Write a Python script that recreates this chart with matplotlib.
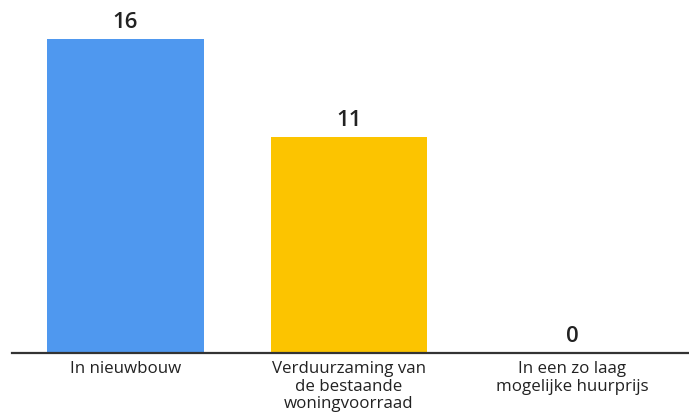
import matplotlib
matplotlib.use('Agg')
import matplotlib.pyplot as plt

categories = ['In nieuwbouw', 'Verduurzaming van\nde bestaande\nwoningvoorraad',
              'In een zo laag\nmogelijke huurprijs']
values = [16, 11, 0]
colors = ['#4f98ef', '#fcc400', '#9e9e9e']

plt.rcParams['font.family'] = ['Open Sans', 'DejaVu Sans']

fig = plt.figure(figsize=(6.89, 4.15), dpi=100)
ax = fig.add_axes([12 / 689, 62 / 415, 677 / 689, 353 / 415])

x = range(len(values))
bars = ax.bar(x, values, width=0.7, color=colors)

for xi, v in zip(x, values):
    ax.text(xi, v + 0.3, str(v), ha='center', va='bottom',
            fontsize=16, fontweight='semibold', color='#222222')

ax.set_xlim(-0.508, 2.521)
ax.set_ylim(0, 17.99)
ax.set_yticks([])
ax.set_xticks(list(x))
ax.set_xticklabels(categories, fontsize=12.2, color='#222222', linespacing=1.1)
ax.tick_params(axis='x', length=0, pad=6)
for side in ['top', 'right', 'left']:
    ax.spines[side].set_visible(False)
ax.spines['bottom'].set_color('#333333')
ax.spines['bottom'].set_linewidth(1.6)

plt.savefig('out.png', dpi=100)
